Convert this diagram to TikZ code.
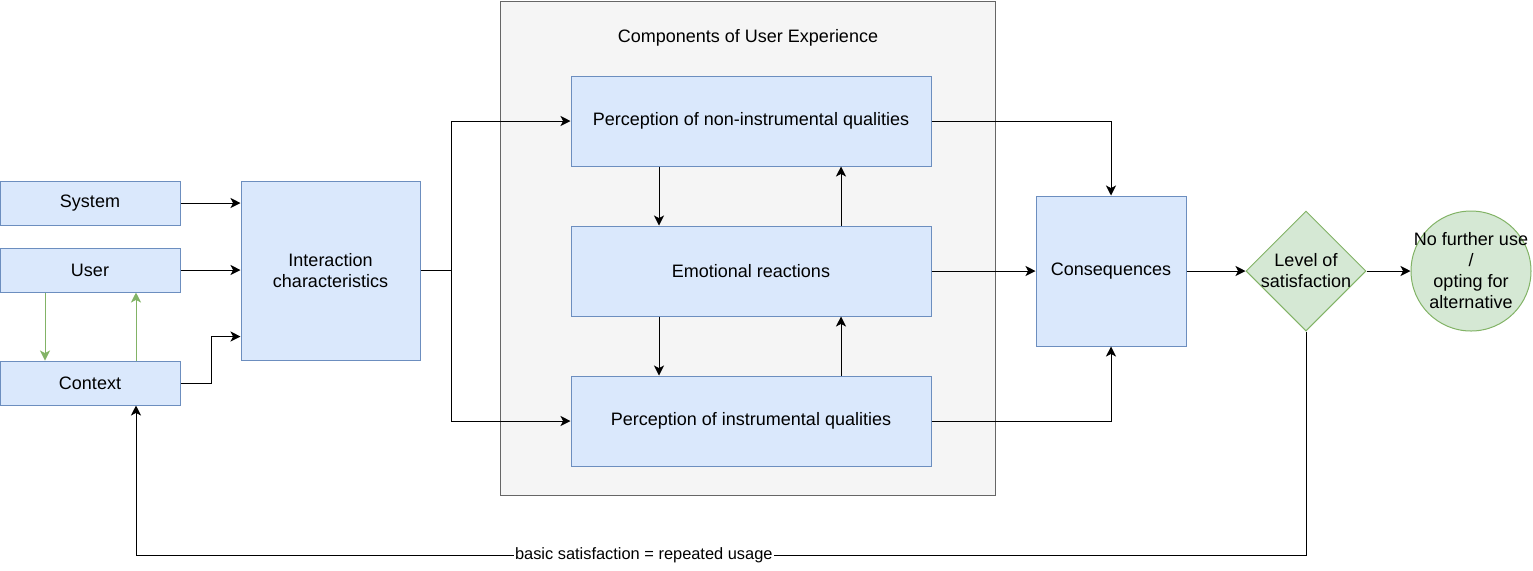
\documentclass[tikz,border=0pt]{standalone}
\usepackage{fontspec}
\setmainfont{Liberation Sans}
\usetikzlibrary{shapes.geometric,arrows.meta,calc}
\definecolor{bluefill}{HTML}{DAE8FC}
\definecolor{bluedraw}{HTML}{6C8EBF}
\definecolor{greenfill}{HTML}{D5E8D4}
\definecolor{greendraw}{HTML}{82B366}
\definecolor{grayfill}{HTML}{F5F5F5}
\definecolor{graydraw}{HTML}{666666}
\begin{document}
\begin{tikzpicture}[x=0.5pt,y=-0.5pt,line width=0.5pt]
\tikzstyle{every node}+=[inner sep=0pt,font=\fontsize{9}{10.5}\selectfont,align=center]
\tikzstyle{bluebox}=[draw=bluedraw,fill=bluefill,minimum width=90pt,minimum height=22pt]
\tikzstyle{arr}=[-{Stealth[length=5pt,width=5pt,inset=1.3pt]},black]
\tikzstyle{garr}=[-{Stealth[length=5pt,width=5pt,inset=1.3pt]},greendraw]
\useasboundingbox (0,0) rectangle (1533,570);
\node[draw=graydraw,fill=grayfill,minimum width=247.5pt,minimum height=247pt] (ux) at (747.5,248) {};
\node (uxtitle) at (748,38) {Components of User Experience};
\node[bluebox] (sys) at (90,203) {System};
\node[bluebox] (usr) at (90,270) {User};
\node[bluebox] (ctx) at (90,383) {Context};
\node[bluebox,minimum width=89.5pt,minimum height=89.5pt] (ia) at (330.5,270.5) {Interaction\\characteristics};
\node[bluebox,minimum width=180pt,minimum height=45pt] (nonins) at (751,121) {Perception of non-instrumental qualities};
\node[bluebox,minimum width=180pt,minimum height=45pt] (emo) at (751,271) {Emotional reactions};
\node[bluebox,minimum width=180pt,minimum height=45pt] (ins) at (751,421) {Perception of instrumental qualities};
\node[bluebox,minimum width=75pt,minimum height=75pt] (cons) at (1111,271) {Consequences};
\node[diamond,draw=greendraw,fill=greenfill,minimum width=60pt,minimum height=60pt,label=center:{Level of\\satisfaction}] (lvl) at (1306,271) {};
\node[circle,draw=greendraw,fill=greenfill,minimum size=60pt,label=center:{No further use\\/\\opting for\\alternative}] (stop) at (1471,271) {};
\coordinate (split) at (451,270.5);
\coordinate (fb) at (1306,555);
\draw[arr] (sys.east) -- (sys.east -| ia.west);
\draw[arr] (usr.east) -- (usr.east -| ia.west);
\draw[arr] (ctx.east) -- ++(31,0) |- ($(ia.west)+(0,66)$);
\draw[garr] (usr.south -| 45,0) -- (ctx.north -| 45,0);
\draw[garr] (ctx.north -| 136,0) -- (usr.south -| 136,0);
\draw (ia.east) -- (split);
\draw[arr] (split) |- (nonins.west);
\draw[arr] (split) |- (ins.west);
\draw[arr] (nonins.south -| 659,0) -- (emo.north -| 659,0);
\draw[arr] (emo.north -| 841,0) -- (nonins.south -| 841,0);
\draw[arr] (emo.south -| 659,0) -- (ins.north -| 659,0);
\draw[arr] (ins.north -| 841,0) -- (emo.south -| 841,0);
\draw[arr] (nonins.east) -| (cons.north);
\draw[arr] (emo.east) -- (cons.west);
\draw[arr] (ins.east) -| (cons.south);
\draw[arr] (cons.east) -- (lvl.west);
\draw[arr] (lvl.east) -- (stop.west);
\draw[arr] (lvl.south) -- (fb) -- node[pos=0.566,fill=white,inner sep=0.5pt,font=\fontsize{8.2}{10}\selectfont] {basic satisfaction = repeated usage} (fb -| 136,0) -- (ctx.south -| 136,0);
\end{tikzpicture}
\end{document}
